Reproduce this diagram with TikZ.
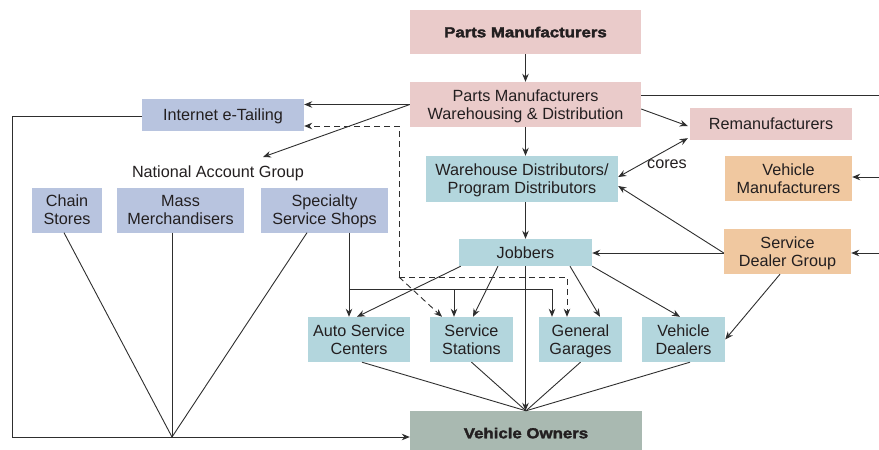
\documentclass[tikz,border=0pt]{standalone}
\usepackage{fontspec}
\setmainfont{Liberation Sans}
\newfontfamily\heavyfont[FakeStretch=1.16,FakeBold=2.2]{Liberation Sans Bold}
\usetikzlibrary{arrows.meta,calc}

\definecolor{txt}{HTML}{231F20}
\definecolor{ln}{HTML}{2E2E2E}
\definecolor{pinkfill}{HTML}{EACBCA}
\definecolor{bluefill}{HTML}{B8C4DF}
\definecolor{cyanfill}{HTML}{B3D6DD}
\definecolor{peachfill}{HTML}{F0C8A0}
\definecolor{greyfill}{HTML}{A9B9B1}

\tikzset{
  box/.style={draw=none, inner sep=0pt, align=center, text=txt, text depth=0pt,
    font=\fontsize{16.2}{18}\selectfont},
  pinkbox/.style={box, fill=pinkfill},
  bluebox/.style={box, fill=bluefill},
  cyanbox/.style={box, fill=cyanfill},
  peachbox/.style={box, fill=peachfill},
  greybox/.style={box, fill=greyfill},
  heavy/.style={font=\heavyfont\fontsize{14.5}{16}\selectfont},
  conn/.style={draw=ln, line width=0.9pt},
  arr/.style={conn, -{Stealth[length=8pt,width=6.5pt]}},
  dblarr/.style={conn, {Stealth[length=8pt,width=6.5pt]}-{Stealth[length=8pt,width=6.5pt]}},
  dashconn/.style={conn, dash pattern=on 6pt off 4pt},
}

\begin{document}
\begin{tikzpicture}[x=1pt,y=-1pt]
\useasboundingbox (0,0) rectangle (879,450);

% supply side
\node[pinkbox, heavy, minimum width=231pt, minimum height=44pt] (pm) at (525.5,32) {Parts Manufacturers};
\node[pinkbox, minimum width=231pt, minimum height=45pt] (pmwd) at (525.5,104.5) {Parts Manufacturers\\Warehousing \& Distribution};
\node[pinkbox, minimum width=162pt, minimum height=32pt] (rem) at (771,124) {Remanufacturers};
\node[cyanbox, minimum width=192pt, minimum height=46pt] (wdpd) at (522,179) {Warehouse Distributors/\\Program Distributors};
\node[peachbox, minimum width=127pt, minimum height=45pt] (vm) at (788.5,178.5) {Vehicle\\Manufacturers};
\node[peachbox, minimum width=127pt, minimum height=45pt] (sdg) at (787.5,251.5) {Service\\Dealer Group};
\node[cyanbox, minimum width=133pt, minimum height=27pt] (jobbers) at (525.5,252.5) {Jobbers};

% retail side
\node[bluebox, minimum width=162pt, minimum height=32pt] (iet) at (223,115) {Internet e-Tailing};
\node[box] (nag) at (218,172) {National Account Group};
\node[bluebox, minimum width=70pt, minimum height=45pt] (chain) at (67,210) {Chain\\Stores};
\node[bluebox, minimum width=127pt, minimum height=45pt] (mass) at (180.5,210) {Mass\\Merchandisers};
\node[bluebox, minimum width=127pt, minimum height=45pt] (spec) at (324.5,210) {Specialty\\Service Shops};

% service outlets
\node[cyanbox, minimum width=102pt, minimum height=45pt] (asc) at (359,339.5) {Auto Service\\Centers};
\node[cyanbox, minimum width=83pt, minimum height=45pt] (ss) at (471.5,339.5) {Service\\Stations};
\node[cyanbox, minimum width=83pt, minimum height=45pt] (gg) at (580.5,339.5) {General\\Garages};
\node[cyanbox, minimum width=83pt, minimum height=45pt] (vd) at (683.5,339.5) {Vehicle\\Dealers};

\node[greybox, heavy, minimum width=232pt, minimum height=44pt] (vo) at (526,433) {Vehicle Owners};

\node[box] (cores) at (667,164) {cores};

% free ends and junctions
\coordinate (rtop) at (879,95);
\coordinate (rvm) at (879,177);
\coordinate (rsdg) at (879,253);
\coordinate (nagtip) at (263,157);
\coordinate (dtop) at (399,126);
\coordinate (dcorner) at (399,277);
\coordinate (sbar) at (349,289);
\coordinate (lb) at (12,437);
\coordinate (lconv) at (172,437);

% manufacturer flows
\draw[arr] (pm.south) -- (pmwd.north);
\draw[arr] (pmwd.west) -- (pmwd.west -| iet.east);
\draw[arr] (pmwd.west) -- (nagtip);
\draw[arr] (pmwd.south) -- (pmwd.south |- wdpd.north);
\draw[arr] ($(pmwd.east)+(0,4.5)$) -- ($(rem.west)+(-2,2)$);
\draw[conn] (rtop -| pmwd.east) -- (rtop);
\draw[dblarr] ($(wdpd.east)+(0,-2)$) -- ($(rem.south west)+(-2,-2)$);
\draw[arr] (wdpd.south -| jobbers.north) -- (jobbers.north);

% vehicle manufacturer and dealer group
\draw[arr] (rvm) -- (rvm -| vm.east);
\draw[arr] (rsdg) -- (rsdg -| sdg.east);
\draw[arr] ($(sdg.west)+(0,1.5)$) -- ($(wdpd.east)+(0,7)$);
\draw[arr] ($(sdg.west)+(0,1.5)$) -- ($(jobbers.east)+(0,0.5)$);
\draw[arr] ($(sdg.south)+(-7.5,0)$) -- (vd.east);

% dashed internet flows
\draw[dashconn, -{Stealth[length=8pt,width=6.5pt]}] (dcorner) -- (dtop) -- (dtop -| iet.east);
\draw[dashconn, -{Stealth[length=8pt,width=6.5pt]}] (dcorner) -- (dcorner -| 567,0) -- ($(gg.north)+(-13.5,0)$);
\draw[dashconn, -{Stealth[length=8pt,width=6.5pt]}] (dcorner) -- ($(ss.north)+(-29.5,0)$);

% jobbers to outlets
\draw[arr] ($(jobbers.south west)+(2,0)$) -- ($(asc.north)+(-2,0)$);
\draw[arr] ($(jobbers.south)+(-27.5,0)$) -- ($(ss.north)+(1.5,0)$);
\draw[arr] ($(jobbers.south)+(44.5,0)$) -- ($(gg.north)+(19.5,0)$);
\draw[arr] (jobbers.south east) -- ($(vd.north)+(-3.5,0)$);
\draw[arr] (jobbers.south) -- (jobbers.south |- vo.north);

% specialty service shops to outlets
\draw[arr] (spec.south -| sbar) -- (asc.north -| sbar);
\draw[conn] (sbar) -- (sbar -| 552,0);
\draw[arr] (sbar -| 552,0) -- ($(gg.north)+(-28.5,0)$);
\draw[arr] (sbar -| 454,0) -- ($(ss.north)+(-17.5,0)$);

% outlets to vehicle owners
\draw[conn] ($(asc.south)+(3,0)$) -- (vo.north);
\draw[conn] (ss.south) -- (vo.north);
\draw[conn] (gg.south) -- (vo.north);
\draw[conn] ($(vd.south)+(6.5,0)$) -- (vo.north);

% retail channels to vehicle owners
\draw[conn] ($(chain.south)+(-3,0)$) -- (lconv);
\draw[conn] (mass.south -| lconv) -- (lconv);
\draw[conn] ($(spec.south)+(-17.5,0)$) -- (lconv);
\draw[conn] ($(iet.west)+(0,1)$) -| (lb);
\draw[arr] (lb) -- (lb -| vo.west);
\end{tikzpicture}
\end{document}
